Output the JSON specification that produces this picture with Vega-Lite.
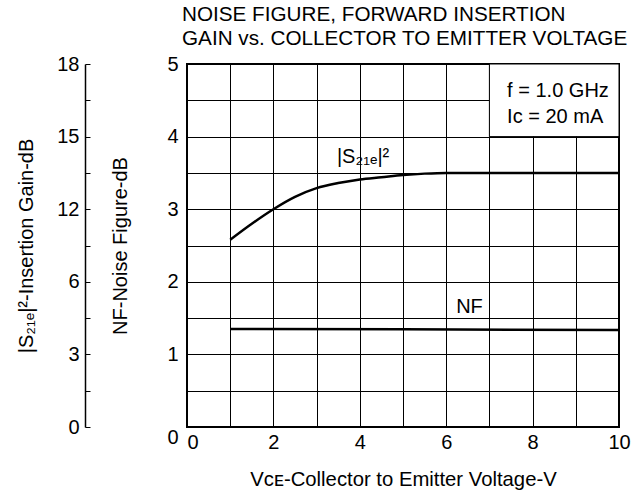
{
  "$schema": "https://vega.github.io/schema/vega-lite/v6.json",
  "width": 432,
  "height": 363,
  "autosize": "none",
  "padding": {"left": 187, "top": 64, "right": 19, "bottom": 64},
  "background": "white",
  "title": {
    "text": ["NOISE FIGURE, FORWARD INSERTION", "GAIN vs. COLLECTOR TO EMITTER VOLTAGE"],
    "anchor": "start",
    "frame": "group",
    "dx": -5,
    "offset": 4,
    "font": "Liberation Sans",
    "fontSize": 20.7,
    "fontWeight": "normal",
    "lineHeight": 24,
    "color": "black"
  },
  "datasets": {
    "gain": [
      {"vce": 1.0, "value": 2.58},
      {"vce": 1.5, "value": 2.80},
      {"vce": 2.0, "value": 3.00},
      {"vce": 2.5, "value": 3.17},
      {"vce": 3.0, "value": 3.29},
      {"vce": 3.5, "value": 3.36},
      {"vce": 4.0, "value": 3.41},
      {"vce": 4.5, "value": 3.44},
      {"vce": 5.0, "value": 3.47},
      {"vce": 5.5, "value": 3.49},
      {"vce": 6.0, "value": 3.50},
      {"vce": 7.0, "value": 3.50},
      {"vce": 8.0, "value": 3.50},
      {"vce": 9.0, "value": 3.50},
      {"vce": 10.0, "value": 3.50}
    ],
    "nf": [
      {"vce": 1.0, "value": 1.35},
      {"vce": 5.0, "value": 1.345},
      {"vce": 10.0, "value": 1.335}
    ],
    "box": [
      {"vce": 7, "vce2": 10, "value": 4, "value2": 5}
    ],
    "notes": [
      {"vce": 7.41, "value": 4.545, "label": "f = 1.0 GHz"},
      {"vce": 7.41, "value": 4.19, "label": "Iᴄ = 20 mA"},
      {"vce": 3.47, "value": 3.64, "label": "|S₂₁ₑ|²"},
      {"vce": 6.23, "value": 1.57, "label": "NF"}
    ]
  },
  "encoding": {
    "x": {
      "field": "vce", "type": "quantitative",
      "scale": {"domain": [0, 10], "nice": false, "zero": false},
      "axis": {
        "title": "Vᴄᴇ-Collector to Emitter Voltage-V",
        "values": [0, 1, 2, 3, 4, 5, 6, 7, 8, 9, 10],
        "labelExpr": "datum.value % 2 == 0 ? format(datum.value, 'd') : ''",
        "labelAlign": {"condition": {"test": "datum.value == 0", "value": "left"}, "value": "center"},
        "domain": false,
        "ticks": false,
        "labelPadding": 5,
        "titlePadding": 17,
        "titleFontSize": 20.3,
        "grid": true,
        "gridColor": "black",
        "gridOpacity": 1,
        "gridWidth": 1
      }
    }
  },
  "layer": [
    {
      "data": {"name": "nf"},
      "mark": {"type": "line", "color": "black", "strokeWidth": 2.5},
      "encoding": {
        "y": {
          "field": "value", "type": "quantitative",
          "scale": {"domain": [0, 5], "nice": false, "zero": false},
          "axis": {
            "orient": "left",
            "title": "NF-Noise Figure-dB",
            "values": [0, 0.5, 1, 1.5, 2, 2.5, 3, 3.5, 4, 4.5, 5],
            "labelExpr": "datum.value % 1 == 0 ? format(datum.value, 'd') : ''",
            "labelBaseline": {"condition": {"test": "datum.value == 0", "value": "top"}, "value": "middle"},
            "domain": false,
            "ticks": false,
            "labelPadding": 9,
            "titlePadding": 36,
            "grid": true,
            "gridColor": "black",
            "gridOpacity": 1,
            "gridWidth": 1
          }
        }
      }
    },
    {
      "data": {"name": "gain"},
      "mark": {"type": "line", "color": "black", "strokeWidth": 2.5, "interpolate": "monotone"},
      "encoding": {
        "y": {
          "field": "value", "type": "quantitative",
          "scale": {"domain": [0, 5], "nice": false, "zero": false},
          "axis": {
            "orient": "left",
            "offset": 102,
            "title": "|S₂₁ₑ|²-Insertion Gain-dB",
            "values": [0, 0.5, 1, 1.5, 2, 2.5, 3, 3.5, 4, 4.5, 5],
            "labelExpr": "datum.value == 0 ? '0' : datum.value == 1 ? '3' : datum.value == 2 ? '6' : datum.value == 3 ? '12' : datum.value == 4 ? '15' : datum.value == 5 ? '18' : ''",
            "domain": true,
            "domainColor": "black",
            "domainWidth": 1.5,
            "ticks": true,
            "tickColor": "black",
            "tickWidth": 1,
            "tickSize": -5,
            "labelPadding": 11,
            "titlePadding": 20,
            "grid": false
          }
        }
      }
    },
    {
      "data": {"name": "box"},
      "mark": {"type": "rect", "fill": "white", "stroke": "black", "strokeWidth": 1},
      "encoding": {
        "x2": {"field": "vce2"},
        "y": {"field": "value", "type": "quantitative", "axis": null},
        "y2": {"field": "value2"}
      }
    },
    {
      "data": {"name": "notes"},
      "mark": {"type": "text", "align": "left", "baseline": "alphabetic", "font": "Liberation Sans", "fontSize": 20, "color": "black"},
      "encoding": {
        "y": {"field": "value", "type": "quantitative", "axis": null},
        "text": {"field": "label"}
      }
    }
  ],
  "resolve": {"axis": {"y": "independent"}},
  "config": {
    "view": {"stroke": "black", "strokeWidth": 2},
    "axis": {
      "labelFont": "Liberation Sans",
      "labelFontSize": 20,
      "labelColor": "black",
      "titleFont": "Liberation Sans",
      "titleFontSize": 20,
      "titleFontWeight": "normal",
      "titleColor": "black"
    }
  }
}
